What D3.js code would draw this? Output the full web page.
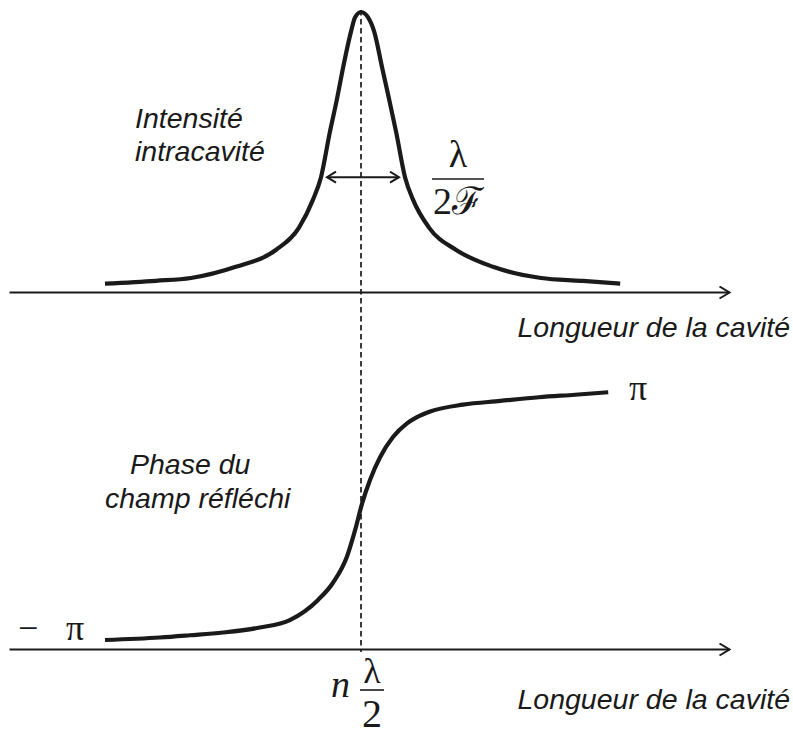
<!DOCTYPE html>
<html>
<head>
<meta charset="utf-8">
<script src="https://cdn.jsdelivr.net/npm/d3@7"></script>
<style>
  body { margin: 0; background: #fff; }
  .lbl { font-family: "Liberation Sans", Arial, sans-serif; font-style: italic; font-size: 28.5px; fill: #1a1a1a; }
  .math { font-family: "Liberation Serif", "DejaVu Serif", serif; fill: #1a1a1a; }
</style>
</head>
<body>
<div id="chart"></div>
<script>
// Cavity detuning (arbitrary units, 0 = resonance) and normalised intracavity intensity
var intensityX = [-6.40, -5.13, -4.25, -3.13, -2.13, -1.55, -1.20, -1.00, -0.78, -0.60, -0.45, -0.25, -0.15, 0,
                  0.18, 0.33, 0.53, 0.70, 0.88, 1.10, 1.30, 1.70, 2.38, 3.30, 4.50, 5.50, 6.48];
var intensityY = [0.03, 0.04, 0.05, 0.09, 0.15, 0.23, 0.33, 0.41, 0.57, 0.69, 0.80, 0.93, 0.98, 1.00,
                  0.98, 0.93, 0.80, 0.69, 0.57, 0.41, 0.33, 0.23, 0.15, 0.09, 0.05, 0.04, 0.03];

// Phase of the reflected field (in units of pi)
var phaseX = [-6.40, -5.03, -4.28, -3.45, -2.53, -1.78, -1.08, -0.70, -0.35, -0.15, 0.03, 0.23, 0.48, 0.80, 1.15, 1.40, 1.73, 2.55, 3.48, 4.45, 5.35, 6.18];
var phaseY = [-1.00, -0.98, -0.962, -0.94, -0.90, -0.84, -0.68, -0.54, -0.33, -0.12, 0.10, 0.29, 0.47, 0.63, 0.74, 0.79, 0.835, 0.89, 0.92, 0.95, 0.97, 0.99];

// Text labels
var axisLabel = "Longueur de la cavité";
var topLabel = ["Intensité", "intracavité"];
var bottomLabel = ["Phase du", "champ réfléchi"];

var width = 793, height = 743;

var svg = d3.select("#chart").append("svg")
  .attr("width", width)
  .attr("height", height);

var defs = svg.append("defs");
defs.append("marker")
  .attr("id", "axisHead")
  .attr("markerUnits", "userSpaceOnUse")
  .attr("markerWidth", 14).attr("markerHeight", 16)
  .attr("refX", 11).attr("refY", 7)
  .attr("orient", "auto")
  .append("path")
  .attr("d", "M1,1 L11,7 L1,13")
  .attr("fill", "none").attr("stroke", "#1a1a1a").attr("stroke-width", 2);

defs.append("marker")
  .attr("id", "smallHead")
  .attr("markerUnits", "userSpaceOnUse")
  .attr("markerWidth", 13).attr("markerHeight", 15)
  .attr("refX", 10).attr("refY", 6.5)
  .attr("orient", "auto-start-reverse")
  .append("path")
  .attr("d", "M1,1 L10,6.5 L1,12")
  .attr("fill", "none").attr("stroke", "#1a1a1a").attr("stroke-width", 2);

// Scales
var x = d3.scaleLinear().domain([-8.8, 9.2]).range([9, 729]);
var yInt = d3.scaleLinear().domain([0, 1]).range([292, 12]);
var yPhase = d3.scaleLinear().domain([-1, 1]).range([640, 391]);
var bottomAxisY = 649;

// Axes (no ticks, just the arrowed line)
var topAxis = svg.append("g")
  .attr("transform", `translate(0, ${yInt(0)})`)
  .call(d3.axisBottom(x).ticks(0).tickSizeOuter(0));
var botAxis = svg.append("g")
  .attr("transform", `translate(0, ${bottomAxisY})`)
  .call(d3.axisBottom(x).ticks(0).tickSizeOuter(0));
[topAxis, botAxis].forEach(function (g) {
  g.select(".domain")
    .attr("stroke", "#1a1a1a")
    .attr("stroke-width", 2)
    .attr("marker-end", "url(#axisHead)");
});

// Resonance dashed line
svg.append("line")
  .attr("x1", x(0)).attr("x2", x(0))
  .attr("y1", 10).attr("y2", bottomAxisY + 3)
  .attr("stroke", "#1a1a1a")
  .attr("stroke-width", 1.7)
  .attr("stroke-dasharray", "5.5,3.5");

// Curves
var intensityData = intensityX.map((d, i) => ({ x: d, y: intensityY[i] }));
var phaseData = phaseX.map((d, i) => ({ x: d, y: phaseY[i] }));

svg.append("path")
  .datum(intensityData)
  .attr("fill", "none")
  .attr("stroke", "#1a1a1a")
  .attr("stroke-width", 4.2)
  .attr("d", d3.line().x(d => x(d.x)).y(d => yInt(d.y)).curve(d3.curveMonotoneX));

svg.append("path")
  .datum(phaseData)
  .attr("fill", "none")
  .attr("stroke", "#1a1a1a")
  .attr("stroke-width", 4.2)
  .attr("d", d3.line().x(d => x(d.x)).y(d => yPhase(d.y)).curve(d3.curveMonotoneX));

// Width arrow (FWHM)
svg.append("line")
  .attr("x1", x(-0.85)).attr("x2", x(0.95))
  .attr("y1", yInt(0.41)).attr("y2", yInt(0.41))
  .attr("stroke", "#1a1a1a").attr("stroke-width", 2)
  .attr("marker-start", "url(#smallHead)")
  .attr("marker-end", "url(#smallHead)");

// lambda / 2F
svg.append("text").attr("class", "math")
  .attr("x", 458).attr("y", 167).attr("text-anchor", "middle")
  .style("font-size", "38px").text("λ");
svg.append("line")
  .attr("x1", 432).attr("x2", 484).attr("y1", 179).attr("y2", 179)
  .attr("stroke", "#1a1a1a").attr("stroke-width", 1.6);
svg.append("text").attr("class", "math")
  .attr("x", 458).attr("y", 214).attr("text-anchor", "middle")
  .style("font-size", "38px").text("2ℱ");

// Labels
svg.append("text").attr("class", "lbl")
  .selectAll("tspan").data(topLabel).enter().append("tspan")
  .attr("x", 135).attr("y", (d, i) => 128 + i * 33)
  .text(d => d);

svg.append("text").attr("class", "lbl")
  .selectAll("tspan").data(bottomLabel).enter().append("tspan")
  .attr("x", (d, i) => i === 0 ? 130 : 105).attr("y", (d, i) => 474 + i * 34)
  .text(d => d);

svg.append("text").attr("class", "lbl")
  .attr("x", 790).attr("y", 337).attr("text-anchor", "end").text(axisLabel);
svg.append("text").attr("class", "lbl")
  .attr("x", 790).attr("y", 709).attr("text-anchor", "end").text(axisLabel);

// pi labels
svg.append("text").attr("class", "math")
  .attr("x", 629).attr("y", 400).style("font-size", "36px").text("π");
svg.append("text").attr("class", "math")
  .attr("x", 18).attr("y", 640).style("font-size", "36px").text("−");
svg.append("text").attr("class", "math")
  .attr("x", 66).attr("y", 640).style("font-size", "36px").text("π");

// n lambda/2
svg.append("text").attr("class", "math")
  .attr("x", 331).attr("y", 697).style("font-size", "38px").style("font-style", "italic").text("n");
svg.append("text").attr("class", "math")
  .attr("x", 372).attr("y", 683).attr("text-anchor", "middle")
  .style("font-size", "36px").text("λ");
svg.append("line")
  .attr("x1", 360).attr("x2", 384).attr("y1", 690).attr("y2", 690)
  .attr("stroke", "#1a1a1a").attr("stroke-width", 1.6);
svg.append("text").attr("class", "math")
  .attr("x", 372).attr("y", 727).attr("text-anchor", "middle")
  .style("font-size", "40px").text("2");
</script>
</body>
</html>
